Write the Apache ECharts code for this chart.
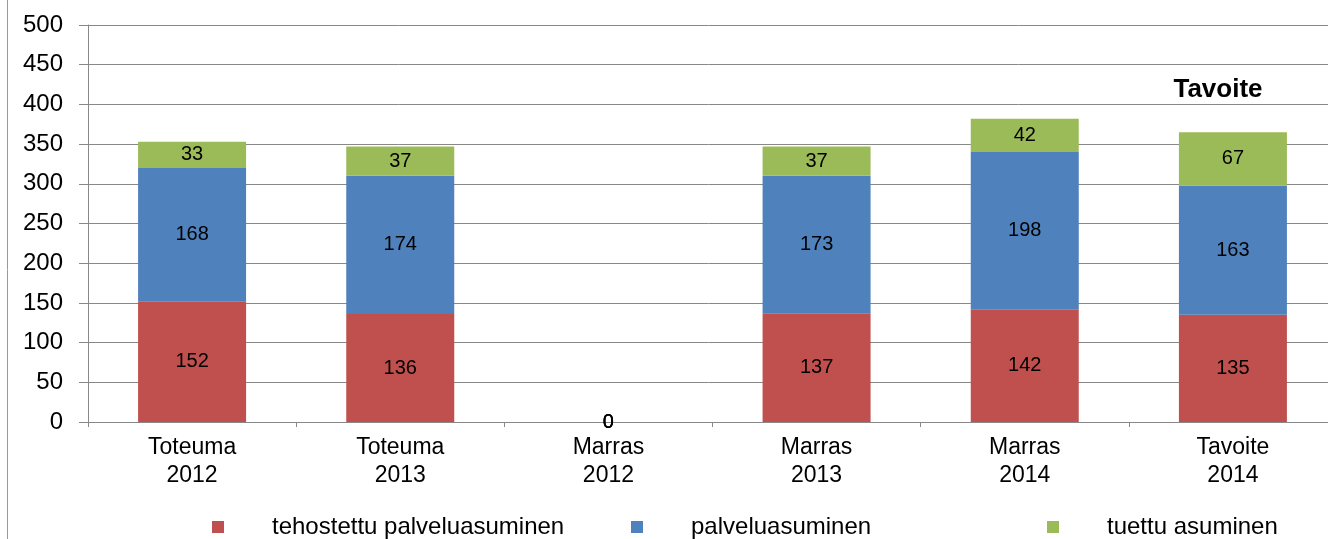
<!DOCTYPE html>
<html>
<head>
<meta charset="UTF-8">
<title></title>
<script src="https://cdn.jsdelivr.net/npm/echarts@6/dist/echarts.min.js"></script>
<style>
    html, body { margin: 0; padding: 0; background: #fff; }
    #chart1 { width: 1328px; height: 539px; }
</style>
</head>
<body>
<div id="chart1"></div>
<script type="text/javascript">
    // kategoriat ja sarjat
    var categories = ['Toteuma\n2012', 'Toteuma\n2013', 'Marras\n2012', 'Marras\n2013', 'Marras\n2014', 'Tavoite\n2014'];
    var tehostettu = [152, 136, 0, 137, 142, 135];
    var palvelu = [168, 174, 0, 173, 198, 163];
    var tuettu = [33, 37, 0, 37, 42, 67];
    var seriesNames = ['tehostettu palveluasuminen', 'palveluasuminen', 'tuettu asuminen'];
    var colors = ['#C0504D', '#4F81BD', '#9BBB59'];

    var chart1 = echarts.init(document.getElementById('chart1'));

    function barSeries(name, data, color) {
        return {
            name: name,
            type: 'bar',
            stack: 'yht',
            barWidth: 108,
            data: data,
            itemStyle: { color: color },
            label: {
                show: true,
                position: 'inside',
                color: '#000',
                fontSize: 20,
                fontFamily: 'Liberation Sans'
            }
        };
    }

    // Excel-tyylinen selite: jokainen nimi omassa tasavälisessä paikassa
    var legendLeft = [207, 626, 1042];
    var legends = seriesNames.map(function (name, i) {
        return {
            left: legendLeft[i],
            top: 510,
            itemWidth: 12,
            itemHeight: 12,
            icon: 'rect',
            textStyle: { fontSize: 24, color: '#000', padding: [0, 0, 0, 43] },
            data: [name]
        };
    });

    var option = {
        animation: false,
        textStyle: { fontFamily: 'Liberation Sans' },
        grid: { left: 88, top: 25, width: 1249, bottom: 117, outerBoundsMode: 'none' },
        legend: legends,
        xAxis: {
            type: 'category',
            data: categories,
            axisLine: { lineStyle: { color: '#888', width: 1 } },
            axisTick: { show: true, length: 5, lineStyle: { color: '#888' } },
            axisLabel: { color: '#000', fontSize: 23, margin: 12, lineHeight: 28 }
        },
        yAxis: {
            type: 'value',
            min: 0,
            max: 500,
            interval: 50,
            axisLine: { show: true, lineStyle: { color: '#888' } },
            axisTick: { show: true, inside: false, length: 9, lineStyle: { color: '#888' } },
            axisLabel: { color: '#000', fontSize: 24, margin: 25 },
            splitLine: { lineStyle: { color: '#888', width: 1 } }
        },
        graphic: [
            {
                type: 'line',
                shape: { x1: 7.5, y1: 0, x2: 7.5, y2: 539 },
                style: { stroke: '#999', lineWidth: 1 }
            },
            {
                type: 'text',
                x: 1218,
                y: 90,
                style: {
                    text: 'Tavoite',
                    font: 'bold 26px "Liberation Sans"',
                    fill: '#000',
                    textAlign: 'center',
                    textVerticalAlign: 'middle'
                }
            }
        ],
        series: [
            barSeries(seriesNames[0], tehostettu, colors[0]),
            barSeries(seriesNames[1], palvelu, colors[1]),
            barSeries(seriesNames[2], tuettu, colors[2])
        ]
    };
    chart1.setOption(option);
</script>
</body>
</html>
